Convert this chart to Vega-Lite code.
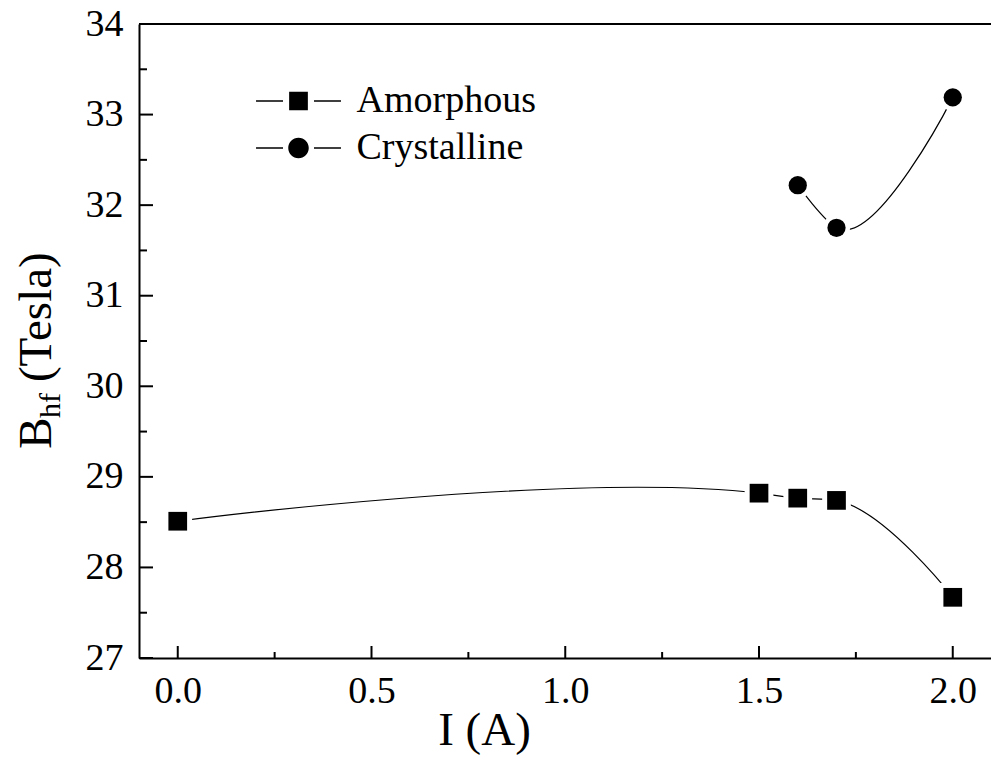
{
  "$schema": "https://vega.github.io/schema/vega-lite/v6.json",
  "width": 852,
  "height": 634,
  "autosize": "none",
  "padding": {"left": 139, "top": 24, "right": 0, "bottom": 106},
  "background": "white",
  "datasets": {
    "points": [
      {"series": "Amorphous", "I": 0.0, "B": 28.51},
      {"series": "Amorphous", "I": 1.5, "B": 28.82},
      {"series": "Amorphous", "I": 1.6, "B": 28.765},
      {"series": "Amorphous", "I": 1.7, "B": 28.74},
      {"series": "Amorphous", "I": 2.0, "B": 27.67},
      {"series": "Crystalline", "I": 1.6, "B": 32.22},
      {"series": "Crystalline", "I": 1.7, "B": 31.75},
      {"series": "Crystalline", "I": 2.0, "B": 33.19}
    ],
    "xticks": [
      {"I": 0.0, "kind": "major"}, {"I": 0.25, "kind": "minor"}, {"I": 0.5, "kind": "major"},
      {"I": 0.75, "kind": "minor"}, {"I": 1.0, "kind": "major"}, {"I": 1.25, "kind": "minor"},
      {"I": 1.5, "kind": "major"}, {"I": 1.75, "kind": "minor"}, {"I": 2.0, "kind": "major"}
    ],
    "yticks": [
      {"B": 27, "kind": "major"}, {"B": 27.5, "kind": "minor"}, {"B": 28, "kind": "major"},
      {"B": 28.5, "kind": "minor"}, {"B": 29, "kind": "major"}, {"B": 29.5, "kind": "minor"},
      {"B": 30, "kind": "major"}, {"B": 30.5, "kind": "minor"}, {"B": 31, "kind": "major"},
      {"B": 31.5, "kind": "minor"}, {"B": 32, "kind": "major"}, {"B": 32.5, "kind": "minor"},
      {"B": 33, "kind": "major"}, {"B": 33.5, "kind": "minor"}, {"B": 34, "kind": "major"}
    ],
    "subscript": [{"label": "hf"}],
    "frame": [{"edge": "top"}]
  },
  "layer": [
    {
      "data": {"name": "points"},
      "mark": {"type": "line", "interpolate": "catmull-rom", "tension": 1, "color": "black", "strokeWidth": 1.2},
      "encoding": {
        "x": {
          "field": "I", "type": "quantitative",
          "scale": {"domain": [-0.1, 2.0987], "nice": false, "zero": false},
          "axis": {
            "title": "I (A)",
            "values": [0, 0.5, 1.0, 1.5, 2.0],
            "format": ".1f",
            "ticks": false,
            "tickSize": 0,
            "labelPadding": 44,
            "labelBaseline": "alphabetic",
            "titleX": 345,
            "titleY": 86,
            "titleAlign": "center",
            "titleBaseline": "alphabetic",
            "titleFontSize": 47
          }
        },
        "y": {
          "field": "B", "type": "quantitative",
          "scale": {"domain": [27, 34], "nice": false, "zero": false},
          "axis": {
            "title": "B\u00a0\u00a0\u00a0(Tesla)",
            "values": [27, 28, 29, 30, 31, 32, 33, 34],
            "format": "d",
            "ticks": false,
            "tickSize": 0,
            "labelPadding": 16,
            "titleX": -89,
            "titleY": 326,
            "titleAngle": 270,
            "titleAlign": "center",
            "titleBaseline": "alphabetic",
            "titleFontSize": 47
          }
        },
        "detail": {"field": "series"}
      }
    },
    {
      "data": {"name": "frame"},
      "mark": {"type": "rule", "color": "black", "strokeWidth": 2},
      "encoding": {"y": {"datum": 34, "type": "quantitative"}}
    },
    {
      "data": {"name": "xticks"},
      "transform": [{"filter": "datum.kind === 'major'"}],
      "mark": {"type": "rule", "color": "black", "strokeWidth": 2},
      "encoding": {
        "x": {"field": "I", "type": "quantitative"},
        "y": {"datum": 27, "type": "quantitative"},
        "y2": {"datum": 27.1325}
      }
    },
    {
      "data": {"name": "xticks"},
      "transform": [{"filter": "datum.kind === 'minor'"}],
      "mark": {"type": "rule", "color": "black", "strokeWidth": 2},
      "encoding": {
        "x": {"field": "I", "type": "quantitative"},
        "y": {"datum": 27, "type": "quantitative"},
        "y2": {"datum": 27.0663}
      }
    },
    {
      "data": {"name": "yticks"},
      "transform": [{"filter": "datum.kind === 'major'"}],
      "mark": {"type": "rule", "color": "black", "strokeWidth": 2},
      "encoding": {
        "y": {"field": "B", "type": "quantitative"},
        "x": {"datum": -0.1, "type": "quantitative"},
        "x2": {"datum": -0.0639}
      }
    },
    {
      "data": {"name": "yticks"},
      "transform": [{"filter": "datum.kind === 'minor'"}],
      "mark": {"type": "rule", "color": "black", "strokeWidth": 2},
      "encoding": {
        "y": {"field": "B", "type": "quantitative"},
        "x": {"datum": -0.1, "type": "quantitative"},
        "x2": {"datum": -0.0794}
      }
    },
    {
      "data": {"name": "points"},
      "mark": {"type": "point", "filled": true, "color": "white", "opacity": 1},
      "encoding": {
        "x": {"field": "I", "type": "quantitative"},
        "y": {"field": "B", "type": "quantitative"},
        "shape": {"field": "series", "type": "nominal", "scale": {"range": ["square", "circle"]}, "legend": null},
        "size": {"field": "series", "type": "nominal", "scale": {"range": [824, 735]}, "legend": null}
      }
    },
    {
      "data": {"name": "points"},
      "mark": {"type": "point", "filled": true, "color": "black", "opacity": 1},
      "encoding": {
        "x": {"field": "I", "type": "quantitative"},
        "y": {"field": "B", "type": "quantitative"},
        "shape": {"field": "series", "type": "nominal", "scale": {"range": ["square", "circle"]}, "legend": null},
        "size": {"field": "series", "type": "nominal", "scale": {"range": [350, 333]}, "legend": null}
      }
    },
    {
      "data": {"name": "points"},
      "mark": {"type": "point", "filled": true, "color": "black", "opacity": 0},
      "encoding": {
        "x": {"field": "I", "type": "quantitative"},
        "y": {"field": "B", "type": "quantitative"},
        "shape": {
          "field": "series", "type": "nominal",
          "scale": {"range": [
            "M-2.36,-0.042L-0.86,-0.042L-0.86,0.042L-2.36,0.042ZM0.86,-0.042L2.36,-0.042L2.36,0.042L0.86,0.042ZM-0.52,-0.52L0.52,-0.52L0.52,0.52L-0.52,0.52Z",
            "M-2.36,-0.042L-0.86,-0.042L-0.86,0.042L-2.36,0.042ZM0.86,-0.042L2.36,-0.042L2.36,0.042L0.86,0.042ZM0.57,0A0.57,0.57,0,1,1,-0.57,0A0.57,0.57,0,1,1,0.57,0Z"
          ]},
          "legend": {
            "title": null,
            "orient": "none",
            "legendX": 140.5,
            "legendY": 58,
            "padding": 0,
            "symbolSize": 1296,
            "rowPadding": 9,
            "labelOffset": 39,
            "labelFont": "Liberation Serif",
            "labelFontSize": 38,
            "labelColor": "black",
            "labelLimit": 400,
            "encode": {
              "symbols": {
                "update": {
                  "opacity": {"value": 1},
                  "fill": {"value": "black"},
                  "fillOpacity": {"value": 1},
                  "strokeWidth": {"value": 0},
                  "size": {"value": 1296}
                }
              }
            }
          }
        }
      }
    },
    {
      "data": {"name": "subscript"},
      "mark": {"type": "text", "clip": false, "angle": 270, "font": "Liberation Serif", "fontSize": 30, "align": "center", "baseline": "alphabetic", "color": "black"},
      "encoding": {
        "x": {"datum": -0.3039, "type": "quantitative"},
        "y": {"datum": 29.788, "type": "quantitative"},
        "text": {"field": "label", "type": "nominal"}
      }
    }
  ],
  "resolve": {"scale": {"shape": "independent", "size": "independent"}},
  "config": {
    "view": {"stroke": null},
    "font": "Liberation Serif",
    "axis": {
      "grid": false,
      "domainColor": "black",
      "domainWidth": 2,
      "labelFont": "Liberation Serif",
      "labelFontSize": 38,
      "labelColor": "black",
      "titleFont": "Liberation Serif",
      "titleFontWeight": "normal",
      "titleColor": "black",
      "labelFlush": false,
      "labelOverlap": false
    }
  }
}
